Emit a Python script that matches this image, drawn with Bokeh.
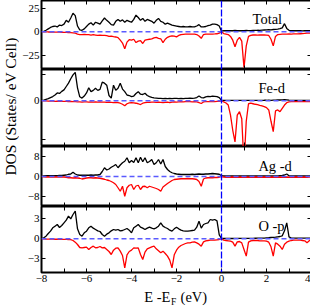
import math
from bokeh.plotting import figure
from bokeh.models import Range1d, LinearAxis, FixedTicker, Span
from bokeh.layouts import row, column
from bokeh.embed import file_html
from bokeh.resources import INLINE
from bokeh.core.properties import value

FONT = "Liberation Serif"

# energy grid E - E_F (eV), 0.1 eV steps from -8 to 4
energy = [round(-8 + 0.1 * i, 1) for i in range(121)]

# ---- Total DOS ----
tot_up = [0.0, 0.3, 1.5, 3.0, 4.5, 5.5, 6.0, 5.0, 7.0, 6.5,
          8.0, 12.0, 10.0, 14.5, 19.5, 17.0, 6.0, 2.0, 1.5, 3.0,
          5.5, 8.0, 9.5, 7.0, 10.0, 9.0, 8.0, 11.5, 14.5, 12.0,
          10.0, 7.5, 7.0, 11.0, 13.0, 11.0, 12.5, 10.0, 12.0, 11.0,
          10.0, 13.0, 17.5, 15.0, 12.0, 14.0, 11.0, 13.0, 12.0, 11.0,
          9.0, 12.0, 14.0, 11.0, 10.0, 8.0, 9.0, 8.0, 7.0, 6.5,
          6.0, 5.5, 5.0, 5.5, 5.0, 5.0, 5.5, 5.0, 5.0, 6.0,
          7.5, 5.0, 5.0, 5.5, 6.5, 7.0, 8.0, 8.0, 7.5, 6.0,
          0.5, 1.0, 1.2, 1.0, 1.2, 1.0, 1.3, 1.0, 1.2, 1.0,
          1.2, 1.3, 1.1, 1.2, 1.4, 1.3, 1.5, 1.4, 1.6, 1.8,
          2.0, 2.2, 2.0, 2.3, 2.5, 2.8, 3.2, 4.0, 8.5, 3.5,
          1.5, 1.2, 1.0, 1.0, 1.1, 1.0, 0.9, 1.0, 1.1, 1.0,
          1.0]
tot_dn = [0.0, -0.1, -0.2, -0.3, -0.3, -0.4, -0.4, -0.5, -0.5, -0.6,
          -0.7, -0.8, -0.9, -1.0, -1.2, -1.6, -2.5, -3.0, -3.2, -2.8,
          -3.0, -3.2, -3.6, -3.2, -3.6, -4.0, -3.6, -4.0, -3.8, -4.2,
          -5.0, -4.6, -5.2, -5.6, -6.2, -9.0, -12.0, -18.0, -11.0, -8.5,
          -9.0, -8.0, -11.5, -10.0, -9.5, -12.5, -9.0, -8.5, -8.0, -7.5,
          -6.5, -6.0, -7.0, -7.5, -11.5, -8.0, -6.0, -5.0, -4.5, -4.8,
          -5.5, -4.0, -3.0, -2.8, -2.6, -2.5, -2.6, -2.5, -2.6, -3.0,
          -4.5, -7.0, -3.0, -2.5, -2.5, -2.6, -2.5, -2.4, -2.2, -1.5,
          0.0, -2.0, -2.5, -3.0, -5.0, -9.0, -16.0, -9.0, -6.0, -10.0,
          -38.0, -15.0, -5.0, -4.0, -3.5, -3.5, -3.6, -3.5, -3.4, -3.5,
          -3.6, -4.0, -8.0, -15.0, -5.0, -3.0, -2.8, -2.6, -2.5, -2.5,
          -2.4, -2.5, -2.4, -2.3, -2.4, -2.2, -2.0, -1.8, -1.6, -1.5,
          -1.5]

# ---- Fe-d ----
fe_up = [0.0, 0.2, 0.5, 0.8, 1.2, 1.6, 2.2, 3.0, 2.8, 3.6,
         4.2, 5.5, 6.8, 8.5, 10.0, 11.0, 5.0, 1.5, 1.0, 1.8,
         3.0, 5.0, 3.5, 4.0, 4.8, 4.0, 4.4, 7.2, 6.8, 6.0,
         2.0, 1.0, 6.0, 4.0, 4.8, 6.8, 4.5, 3.5, 2.2, 2.0,
         1.6, 1.8, 2.8, 3.5, 2.5, 2.4, 2.9, 2.0, 1.6, 1.3,
         1.1, 1.0, 0.9, 0.9, 0.8, 0.9, 0.8, 0.9, 0.8, 0.9,
         0.9, 0.8, 0.9, 0.8, 0.9, 0.9, 1.0, 0.9, 1.0, 1.2,
         1.8, 1.2, 1.1, 1.5, 1.7, 1.6, 1.8, 1.7, 1.6, 1.2,
         0.1, 0.1, 0.15, 0.1, 0.1, 0.15, 0.1, 0.1, 0.1, 0.15,
         0.1, 0.1, 0.15, 0.1, 0.1, 0.1, 0.15, 0.1, 0.1, 0.15,
         0.15, 0.2, 0.15, 0.2, 0.2, 0.25, 0.25, 0.3, 0.4, 0.3,
         0.2, 0.15, 0.1, 0.1, 0.1, 0.1, 0.1, 0.1, 0.1, 0.1,
         0.1]
fe_dn = [0.0, -0.1, -0.1, -0.2, -0.2, -0.2, -0.3, -0.2, -0.3, -0.3,
         -0.3, -0.3, -0.4, -0.3, -0.4, -0.4, -0.5, -0.5, -0.6, -0.5,
         -0.5, -0.6, -0.5, -0.6, -0.5, -0.6, -0.5, -0.6, -0.6, -0.7,
         -0.6, -0.7, -0.8, -0.7, -0.8, -1.0, -1.4, -2.0, -1.2, -0.9,
         -0.8, -0.9, -1.0, -1.2, -1.5, -1.0, -0.8, -0.7, -0.7, -0.6,
         -0.6, -0.7, -0.6, -0.7, -0.8, -0.7, -0.6, -0.8, -0.6, -0.5,
         -0.6, -0.5, -0.4, -0.5, -0.4, -0.4, -0.4, -0.5, -0.4, -0.5,
         -0.8, -1.1, -0.5, -0.4, -0.4, -0.4, -0.3, -0.4, -0.3, -0.3,
         0.0, -0.5, -0.9, -1.7, -5.6, -11.5, -16.0, -5.6, -4.3, -7.0,
         -25.0, -8.0, -1.2, -1.0, -1.2, -1.4, -1.5, -1.8, -2.0, -2.3,
         -2.7, -3.6, -8.0, -12.0, -4.0, -3.6, -4.3, -3.0, -1.7, -0.8,
         -0.5, -0.4, -0.4, -0.4, -0.4, -0.4, -0.4, -0.4, -0.4, -0.4,
         -0.4]

# ---- Ag-d ----
ag_up = [0.0, 0.2, 0.3, 0.3, 0.3, 0.3, 0.3, 0.3, 0.4, 0.4,
         0.5, 0.6, 0.9, 1.0, 1.7, 1.0, 0.6, 0.5, 0.5, 0.5,
         0.5, 0.5, 0.6, 0.5, 0.6, 0.6, 0.8, 2.0, 3.5, 2.6,
         3.0, 3.7, 4.2, 4.8, 3.5, 4.6, 5.5, 6.1, 7.5, 5.5,
         6.4, 5.6, 7.5, 5.5, 7.7, 5.9, 7.5, 5.5, 6.0, 6.8,
         4.8, 5.5, 6.8, 5.0, 6.8, 4.0, 2.8, 2.0, 1.5, 1.2,
         1.0, 0.9, 0.8, 0.8, 0.8, 0.8, 0.8, 0.9, 0.8, 0.9,
         1.0, 0.9, 0.9, 1.0, 1.0, 1.1, 1.2, 1.1, 1.0, 0.9,
         0.3, 0.2, 0.2, 0.2, 0.2, 0.2, 0.2, 0.2, 0.2, 0.2,
         0.2, 0.2, 0.2, 0.2, 0.2, 0.2, 0.2, 0.2, 0.2, 0.2,
         0.2, 0.2, 0.2, 0.2, 0.2, 0.2, 0.3, 0.4, 0.6, 1.0,
         0.3, 0.2, 0.2, 0.2, 0.2, 0.2, 0.2, 0.2, 0.2, 0.2,
         0.2]
ag_dn = [0.0, -0.1, -0.2, -0.2, -0.2, -0.2, -0.2, -0.2, -0.2, -0.2,
         -0.2, -0.3, -0.5, -0.5, -0.6, -0.5, -0.6, -0.7, -1.0, -0.8,
         -0.6, -0.5, -0.5, -0.6, -0.5, -0.6, -0.7, -0.9, -1.1, -1.4,
         -1.6, -2.0, -2.5, -3.2, -4.5, -5.9, -3.9, -7.9, -4.5, -3.5,
         -3.2, -5.2, -3.8, -3.5, -5.2, -4.0, -3.9, -4.5, -3.9, -4.2,
         -4.5, -4.8, -5.2, -5.9, -4.2, -3.5, -2.8, -2.2, -1.6, -1.2,
         -1.1, -1.0, -0.9, -0.9, -0.9, -0.8, -0.9, -0.9, -1.0, -1.2,
         -2.0, -3.9, -1.0, -0.6, -0.5, -0.5, -0.5, -0.4, -0.4, -0.3,
         0.0, -0.2, -0.3, -0.2, -0.3, -0.2, -0.3, -0.2, -0.3, -0.2,
         -0.3, -0.2, -0.3, -0.2, -0.3, -0.2, -0.3, -0.2, -0.3, -0.2,
         -0.3, -0.2, -0.3, -0.2, -0.3, -0.2, -0.3, -0.2, -0.3, -0.2,
         -0.3, -0.2, -0.3, -0.2, -0.3, -0.2, -0.3, -0.2, -0.3, -0.2,
         -0.2]

# ---- O-p ----
o_up = [0.0, 0.15, 0.4, 0.8, 1.15, 1.65, 1.9, 2.15, 1.7, 2.0,
        2.4, 2.8, 3.4, 3.0, 3.65, 4.15, 1.5, 0.65, 0.4, 0.9,
        1.15, 1.65, 1.9, 1.6, 1.4, 1.2, 1.1, 0.65, 0.4, 0.7,
        0.9, 1.2, 1.4, 1.3, 1.4, 1.2, 1.25, 1.4, 1.55, 1.3,
        0.9, 1.65, 1.9, 2.15, 1.75, 1.6, 1.4, 1.6, 1.75, 1.6,
        1.5, 1.65, 1.9, 2.4, 1.9, 1.7, 1.55, 1.3, 1.15, 1.5,
        1.75, 1.5, 1.3, 1.2, 1.15, 1.15, 1.2, 1.25, 1.3, 1.75,
        2.65, 1.6, 2.15, 2.3, 2.4, 2.9, 2.8, 2.9, 2.7, 0.6,
        0.05, 0.05, 0.05, 0.05, 0.05, 0.05, 0.06, 0.06, 0.06, 0.07,
        0.07, 0.07, 0.08, 0.08, 0.08, 0.09, 0.1, 0.1, 0.11, 0.12,
        0.15, 0.17, 0.2, 0.22, 0.25, 0.3, 0.35, 0.45, 1.2, 2.4,
        0.3, 0.12, 0.1, 0.1, 0.1, 0.1, 0.1, 0.1, 0.1, 0.1,
        0.1]
o_dn = [0.0, -0.02, -0.03, -0.04, -0.05, -0.05, -0.06, -0.06, -0.07, -0.08,
        -0.08, -0.09, -0.1, -0.12, -0.25, -0.5, -0.85, -1.3, -1.35, -1.3,
        -1.25, -1.6, -1.3, -1.1, -1.35, -1.3, -1.15, -1.35, -1.3, -1.6,
        -1.9, -2.35, -1.7, -1.4, -1.35, -1.85, -2.5, -4.35, -2.4, -1.9,
        -1.7, -1.35, -1.4, -1.35, -2.35, -3.1, -2.0, -1.5, -1.35, -1.2,
        -1.1, -1.5, -1.8, -2.1, -1.85, -2.2, -2.6, -3.2, -4.35, -2.4,
        -1.7, -1.25, -1.0, -0.85, -0.7, -0.6, -0.6, -0.5, -0.45, -0.6,
        -0.8, -1.1, -0.45, -0.3, -0.25, -0.2, -0.2, -0.2, -0.15, -0.1,
        0.0, -0.2, -0.25, -0.3, -0.35, -0.5, -1.1, -0.45, -0.4, -0.6,
        -1.6, -2.6, -0.5, -0.3, -0.25, -0.25, -0.25, -0.3, -0.3, -0.3,
        -0.35, -0.5, -1.2, -2.6, -0.6, -0.8, -1.1, -1.6, -0.8, -0.5,
        -0.35, -0.25, -0.2, -0.2, -0.2, -0.2, -0.25, -0.3, -0.6, -0.3,
        0.0]

for arr in (tot_up, tot_dn, fe_up, fe_dn, ag_up, ag_dn, o_up, o_dn):
    assert len(arr) == len(energy), len(arr)

panel_names = ["Total", "Fe-d", "Ag -d", "O -p"]
y_ticks = [[-25, 0, 25], [-15, 0, 10], [-8, 0, 8], [-3, 0, 3]]
y_tick_labels = [{}, {-15: "", 10: ""}, {}, {}]
x_ticks = [-8, -6, -4, -2, 0, 2, 4]
x_minor_ticks = [-7, -5, -3, -1, 1, 3]
x_title = ["E -E", "F", "(eV)"]
y_title = "DOS (States/ eV Cell)"

# layout / style (positions and sizes)
y_ranges = [(-40, 33.0), (-17.8, 12.1), (-12, 12), (-5.05, 4.85)]
frame_heights = [69, 77, 60, 66]
name_pos = [(1.38, 13.9), (1.64, 4.8), (1.64, 4.4), (1.64, 2.0)]
FRAME_W = 270
YT_W = 19
LEFT = 17
RIGHT = 4
TOTAL_H = 306

xr = Range1d(-8, 4)


def make_axis(ticker, labelled, overrides=None):
    ax = LinearAxis(ticker=ticker)
    ax.axis_line_color = None
    ax.major_tick_in = 4
    ax.major_tick_out = 0
    ax.minor_tick_in = 4
    ax.minor_tick_out = 0
    ax.major_tick_line_width = 1
    ax.minor_tick_line_width = 1
    ax.major_tick_line_color = "black"
    ax.minor_tick_line_color = "black"
    if labelled:
        ax.major_label_text_font = FONT
        ax.major_label_text_font_size = "11px"
        ax.major_label_text_color = "black"
        ax.major_label_standoff = 2
        if overrides:
            ax.major_label_overrides = overrides
    else:
        ax.major_label_text_font_size = "0px"
        ax.major_label_text_color = None
        ax.major_label_standoff = 0
    return ax


series = [(tot_up, tot_dn), (fe_up, fe_dn), (ag_up, ag_dn), (o_up, o_dn)]
panels = []
for i, (up, dn) in enumerate(series):
    last = i == len(series) - 1
    p = figure(frame_width=FRAME_W, frame_height=frame_heights[i],
               x_range=xr, y_range=Range1d(*y_ranges[i]),
               output_backend="svg", toolbar_location=None,
               x_axis_location=None, y_axis_location=None,
               min_border_left=LEFT, min_border_right=RIGHT,
               min_border_top=0, min_border_bottom=(15 if last else 0))
    p.grid.visible = False
    p.outline_line_color = "black"
    p.outline_line_width = 2
    p.background_fill_color = "white"
    p.border_fill_color = "white"

    xt = FixedTicker(ticks=x_ticks, minor_ticks=x_minor_ticks)
    yt = FixedTicker(ticks=y_ticks[i], minor_ticks=[])
    p.add_layout(make_axis(yt, True, y_tick_labels[i]), "left")
    p.add_layout(make_axis(yt, False), "right")
    p.add_layout(make_axis(xt, last), "below")
    p.add_layout(make_axis(xt, False), "above")

    p.line(energy, up, line_color="black", line_width=1.3)
    p.line(energy, dn, line_color="#ff0000", line_width=1.3)
    p.add_layout(Span(location=0, dimension="width", line_color="#5a5aff",
                      line_dash="5 3", line_width=1.5))
    p.add_layout(Span(location=0, dimension="height", line_color="#0000ff",
                      line_dash="7 2", line_width=1.3))
    nx, ny = name_pos[i]
    p.text(x=[nx], y=[ny], text=[panel_names[i]], text_font=value(FONT),
           text_font_size="14.5px", text_align="left",
           text_baseline="alphabetic", text_color="black")
    panels.append(p)

# x-axis title row
XT_H = 19
xt_fig = figure(frame_width=FRAME_W, frame_height=XT_H, x_range=xr,
                y_range=Range1d(0, XT_H), output_backend="svg",
                toolbar_location=None, x_axis_location=None,
                y_axis_location=None, min_border_left=LEFT,
                min_border_right=RIGHT, min_border_top=0, min_border_bottom=0)
xt_fig.grid.visible = False
xt_fig.outline_line_color = None
xt_fig.text(x=[-2.27], y=[9.6], text=[x_title[0]], text_font=value(FONT),
            text_font_size="14.5px", text_align="right",
            text_baseline="alphabetic", text_color="black")
xt_fig.text(x=[-2.24], y=[5.0], text=[x_title[1]], text_font=value(FONT),
            text_font_size="9.5px", text_align="left",
            text_baseline="alphabetic", text_color="black")
xt_fig.text(x=[-1.82], y=[9.6], text=[x_title[2]], text_font=value(FONT),
            text_font_size="14.5px", text_align="left",
            text_baseline="alphabetic", text_color="black")

# y-axis title column
yt_fig = figure(width=YT_W, height=TOTAL_H, x_range=Range1d(0, YT_W),
                y_range=Range1d(0, TOTAL_H), output_backend="svg",
                toolbar_location=None, x_axis_location=None,
                y_axis_location=None, min_border=0)
yt_fig.grid.visible = False
yt_fig.outline_line_color = None
yt_fig.text(x=[9.5], y=[200], text=[y_title], angle=math.pi / 2,
            text_font=value(FONT), text_font_size="15.5px", text_align="center",
            text_baseline="middle", text_color="black")

layout = row(yt_fig, column(*panels, xt_fig))

open("out.html", "w").write(file_html(layout, INLINE))
